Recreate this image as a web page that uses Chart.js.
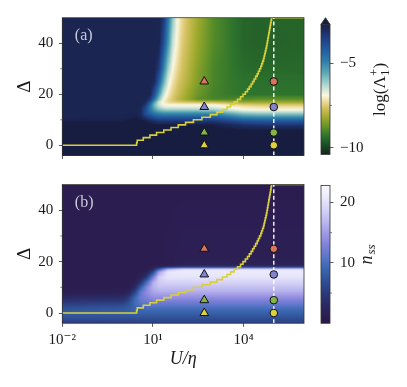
<!DOCTYPE html>
<html>
<head>
<meta charset="utf-8">
<script src="https://cdn.jsdelivr.net/npm/chart.js@4.4.1/dist/chart.umd.min.js"></script>
<style>
  html, body { margin: 0; padding: 0; background: #fff; }
  body { position: relative; width: 407px; height: 387px; overflow: hidden; }
  canvas { position: absolute; }
</style>
</head>
<body>
<canvas id="panelA" width="310" height="170" style="left:0;top:0"></canvas>
<canvas id="cbarA" width="97" height="170" style="left:310px;top:0"></canvas>
<canvas id="panelB" width="310" height="200" style="left:0;top:170px"></canvas>
<canvas id="cbarB" width="97" height="200" style="left:310px;top:170px"></canvas>
<script>
// markers: triangles at U/eta = 500, circles at U/eta = 1e5
const markerDelta = [25, 15, 5, 0];
const markerColors = ['#d9735e', '#8282cf', '#82b44a', '#dfd13e'];
const triangleU = 500;
const circleU = 1e5;

// staircase: log10(U/eta) at which Delta steps up to 1, 2, ..., 50
const stairLogU = [0.46, 0.48, 0.68, 0.90, 1.12, 1.36, 1.60, 1.84, 2.08, 2.34,
  2.62, 2.90, 3.12, 3.30, 3.45, 3.57, 3.69, 3.80, 3.90, 3.98,
  4.06, 4.13, 4.19, 4.25, 4.30, 4.35, 4.40, 4.45, 4.49, 4.53,
  4.57, 4.60, 4.63, 4.66, 4.68, 4.70, 4.72, 4.74, 4.76, 4.775,
  4.79, 4.805, 4.82, 4.835, 4.85, 4.865, 4.88, 4.895, 4.91, 4.925];

// panel (a): log(Lambda_1^+) read at grid nodes
const logUA = [-2, 0, 0.45, 0.6, 0.75, 0.9, 1.05, 1.2, 1.35, 1.5, 1.65, 1.8, 1.95, 2.2, 2.5, 3.0, 3.5, 4.0, 4.5, 5.0, 6.0];
const deltaA = [-4, 0, 6, 8, 9.5, 11, 12.5, 14, 15, 16, 17, 18, 20, 25, 30, 40, 50];
const logLambda = [
  [-2.6, -2.6, -2.6, -2.6, -2.6, -2.6, -2.6, -2.6, -2.6, -2.6, -2.6, -2.6, -2.6, -2.6, -2.6, -2.6, -2.6, -2.6, -2.6, -2.6, -2.6],
  [-2.6, -2.6, -2.6, -2.6, -2.6, -2.6, -2.6, -2.6, -2.6, -2.6, -2.6, -2.6, -2.6, -2.6, -2.6, -2.6, -2.6, -2.6, -2.6, -2.6, -2.6],
  [-2.6, -2.6, -2.6, -2.6, -2.6, -2.6, -2.6, -2.6, -2.6, -2.6, -2.6, -2.6, -2.6, -2.6, -2.6, -2.6, -2.6, -2.65, -2.65, -2.65, -2.65],
  [-2.6, -2.6, -2.6, -2.6, -2.6, -2.6, -2.6, -2.7, -2.7, -2.7, -2.7, -2.7, -2.7, -2.7, -2.7, -2.7, -2.9, -3.2, -3.3, -3.3, -3.3],
  [-2.72, -2.7, -2.65, -2.65, -2.7, -2.9, -3.1, -3.3, -3.3, -3.3, -3.3, -3.3, -3.3, -3.3, -3.3, -3.3, -3.7, -4.0, -4.1, -4.1, -4.1],
  [-2.8, -2.78, -2.7, -2.8, -3.3, -3.7, -4.0, -4.2, -4.2, -4.2, -4.2, -4.2, -4.2, -4.2, -4.2, -4.2, -4.6, -5.0, -5.1, -5.1, -5.1],
  [-2.8, -2.8, -2.78, -3.1, -3.9, -4.4, -4.8, -5.0, -5.1, -5.1, -5.1, -5.1, -5.1, -5.1, -5.1, -5.1, -5.6, -6.0, -6.1, -6.1, -6.1],
  [-2.8, -2.8, -2.8, -3.0, -3.8, -4.7, -5.4, -5.9, -6.1, -6.2, -6.2, -6.2, -6.2, -6.2, -6.2, -6.2, -6.6, -6.9, -6.95, -6.95, -6.95],
  [-2.8, -2.8, -2.8, -2.9, -3.6, -4.7, -5.7, -6.3, -6.6, -6.7, -6.7, -6.7, -6.7, -6.7, -6.7, -6.7, -6.9, -7.1, -7.2, -7.2, -7.2],
  [-2.8, -2.8, -2.8, -2.8, -3.3, -4.5, -5.8, -6.6, -6.9, -6.95, -6.95, -6.95, -6.95, -6.95, -6.95, -6.95, -7.2, -7.5, -7.6, -7.6, -7.6],
  [-2.8, -2.8, -2.8, -2.8, -2.9, -4.0, -5.4, -6.5, -7.0, -7.3, -7.45, -7.55, -7.6, -7.7, -7.8, -7.9, -8.1, -8.3, -8.3, -8.3, -8.3],
  [-2.8, -2.8, -2.8, -2.8, -2.8, -3.3, -4.7, -6.0, -6.85, -7.3, -7.55, -7.85, -8.05, -8.4, -8.8, -9.0, -9.0, -8.9, -8.8, -8.8, -8.8],
  [-2.8, -2.8, -2.8, -2.8, -2.8, -2.8, -4.0, -5.35, -6.5, -7.05, -7.45, -7.7, -7.95, -8.3, -8.7, -9.05, -9.2, -9.3, -9.3, -9.3, -9.3],
  [-2.8, -2.8, -2.8, -2.8, -2.8, -2.8, -2.95, -4.25, -5.6, -6.65, -7.15, -7.5, -7.75, -8.1, -8.5, -9.0, -9.2, -9.3, -9.35, -9.35, -9.35],
  [-2.8, -2.8, -2.8, -2.8, -2.8, -2.8, -2.8, -3.4, -4.9, -6.15, -6.9, -7.3, -7.6, -8.0, -8.45, -9.0, -9.2, -9.4, -9.45, -9.45, -9.45],
  [-2.8, -2.8, -2.8, -2.8, -2.8, -2.8, -2.8, -2.8, -3.9, -5.2, -6.45, -7.0, -7.45, -7.85, -8.3, -8.9, -9.2, -9.5, -9.55, -9.55, -9.5],
  [-2.8, -2.8, -2.8, -2.8, -2.8, -2.8, -2.8, -2.8, -3.3, -4.7, -6.0, -6.85, -7.3, -7.75, -8.2, -8.9, -9.2, -9.5, -9.55, -9.5, -9.5]
];

// panel (b): n_ss read at grid nodes
const logUB = [-2, 0, 0.2, 0.4, 0.6, 0.8, 1.0, 1.2, 1.5, 2.0, 6.0];
const deltaB = [-4, -2, 0, 2, 4, 6, 8, 10, 12, 14, 16, 17, 18, 19, 50];
const nss = [
  [5, 5.2, 5.3, 5.4, 5.5, 5.5, 5.5, 5.5, 5.5, 5.5, 5.5],
  [7, 7, 7, 7, 7, 7, 7, 7, 7, 7, 7],
  [8, 8.2, 8.3, 8.5, 8.5, 8.5, 8.5, 8.5, 8.5, 8.5, 8.5],
  [7, 7.5, 8, 9, 9.5, 10, 10, 10, 10, 10, 10],
  [5, 5.5, 7, 9.5, 11, 11.5, 12, 12, 12, 12, 12],
  [3, 3.5, 5, 9, 12, 13, 14, 14, 14, 14, 14],
  [1.5, 1.8, 2.5, 6, 11.5, 14, 15.5, 16, 16, 16, 16],
  [1, 1, 1.2, 3, 8.5, 13.5, 16.5, 17.5, 17.5, 17.5, 17.5],
  [1, 1, 1, 1.5, 4.5, 10, 16, 18.5, 19, 19, 19],
  [1, 1, 1, 1, 1.8, 5, 12, 18.5, 20.5, 20.5, 20.5],
  [1, 1, 1, 1, 1, 2, 6, 15, 20.5, 21, 21],
  [1, 1, 1, 1, 1, 1.3, 3, 9, 17, 20.5, 20.5],
  [1, 1, 1, 1, 1, 1, 1.2, 2, 4, 5, 5],
  [1, 1, 1, 1, 1, 1, 1, 1, 1.2, 1.5, 1.5],
  [1, 1, 1, 1, 1, 1, 1, 1, 1, 1, 1]
];

const xTicks = [1e-2, 1e1, 1e4];
const yTicks = [0, 10, 20, 30, 40];
const yLabelled = [0, 20, 40];
const cbTicksA = [-10, -7.5, -5];
const cbLabelledA = [-10, -5];
const cbTicksB = [5, 10, 15, 20];
const cbLabelledB = [10, 20];
const rangeA = [-10.4, -2.7];
const rangeB = [0, 22.8];

// colour maps
const stopsA = [
  [-10.4, [22, 36, 24]], [-9.8, [28, 80, 38]], [-9.3, [45, 115, 45]], [-8.8, [95, 145, 40]],
  [-8.2, [160, 170, 45]], [-7.6, [215, 195, 100]], [-7.2, [240, 225, 170]], [-6.9, [250, 248, 225]],
  [-6.3, [178, 216, 208]], [-5.6, [95, 170, 182]], [-4.9, [45, 128, 168]], [-4.2, [35, 90, 160]],
  [-3.5, [32, 62, 130]], [-3.0, [28, 42, 90]], [-2.7, [25, 34, 76]]
];
const overA = [22, 29, 64];
const stopsB = [
  [0, [40, 24, 70]], [1, [44, 29, 80]], [3, [42, 40, 98]], [5, [44, 58, 122]], [7, [48, 80, 150]],
  [9, [58, 102, 175]], [11, [90, 118, 200]], [13, [128, 130, 218]], [15, [160, 155, 230]],
  [17, [190, 186, 240]], [19, [215, 212, 247]], [21, [236, 235, 252]], [22.8, [250, 250, 255]]
];

Chart.defaults.font.family = '"Liberation Serif", "DejaVu Serif", serif';
Chart.defaults.font.size = 14;
Chart.defaults.color = '#1a1a1a';

const SERIF = '"Liberation Serif", "DejaVu Serif", serif';
const SUP = {'-': '\u207b', '0': '\u2070', '1': '\u00b9', '2': '\u00b2', '3': '\u00b3', '4': '\u2074',
  '5': '\u2075', '6': '\u2076', '7': '\u2077', '8': '\u2078', '9': '\u2079'};

function cmap(stops, over) {
  return v => {
    const last = stops[stops.length - 1];
    if (v > last[0]) return over || last[1];
    if (v <= stops[0][0]) return stops[0][1];
    for (let k = 1; k < stops.length; k++) {
      if (v <= stops[k][0]) {
        const [v0, c0] = stops[k - 1], [v1, c1] = stops[k];
        const t = (v - v0) / (v1 - v0);
        return [c0[0] + (c1[0] - c0[0]) * t, c0[1] + (c1[1] - c0[1]) * t, c0[2] + (c1[2] - c0[2]) * t];
      }
    }
    return last[1];
  };
}

function locate(arr, v) {
  const n = arr.length;
  if (v <= arr[0]) return [0, 0];
  if (v >= arr[n - 1]) return [n - 2, 1];
  let k = 0;
  while (v > arr[k + 1]) k++;
  return [k, (v - arr[k]) / (arr[k + 1] - arr[k])];
}

// paints the grid values into the plot area, pixel by pixel via the chart scales
function fieldPlugin(xs, ys, rows, colour) {
  return {
    id: 'field',
    beforeDatasetsDraw(chart) {
      const {ctx, chartArea: a, scales} = chart;
      const W = a.right - a.left, H = a.bottom - a.top;
      const w = Math.round(W), h = Math.round(H);
      const off = document.createElement('canvas');
      off.width = w; off.height = h;
      const octx = off.getContext('2d');
      const img = octx.createImageData(w, h);
      const cols = [];
      for (let i = 0; i < w; i++) {
        cols.push(locate(xs, Math.log10(scales.x.getValueForPixel(a.left + (i + 0.5) * W / w))));
      }
      for (let j = 0; j < h; j++) {
        const [r, s] = locate(ys, scales.y.getValueForPixel(a.top + (j + 0.5) * H / h));
        const r0 = rows[r], r1 = rows[r + 1];
        for (let i = 0; i < w; i++) {
          const [k, t] = cols[i];
          const v0 = r0[k] + (r0[k + 1] - r0[k]) * t;
          const v1 = r1[k] + (r1[k + 1] - r1[k]) * t;
          const c = colour(v0 + (v1 - v0) * s);
          const p = (j * w + i) * 4;
          img.data[p] = c[0]; img.data[p + 1] = c[1]; img.data[p + 2] = c[2]; img.data[p + 3] = 255;
        }
      }
      octx.putImageData(img, 0, 0);
      ctx.drawImage(off, a.left, a.top, W, H);
    }
  };
}

const frame = {
  id: 'frame',
  afterDraw(chart) {
    const {ctx, chartArea: a} = chart;
    ctx.save();
    ctx.strokeStyle = '#333';
    ctx.lineWidth = 0.8;
    ctx.strokeRect(a.left, a.top, a.right - a.left, a.bottom - a.top);
    ctx.restore();
  }
};

// short ticks for the unlabelled (minor) values of the y scale
function minorTicks(values, side) {
  return {
    id: 'minorTicks',
    afterDraw(chart) {
      const {ctx, chartArea: a, scales: {y}} = chart;
      const x0 = side === 'left' ? a.left : a.right;
      const x1 = side === 'left' ? a.left - 2 : a.right + 2;
      ctx.save();
      ctx.strokeStyle = '#333';
      ctx.lineWidth = 0.6;
      values.forEach(v => {
        const py = y.getPixelForValue(v);
        ctx.beginPath(); ctx.moveTo(x0, py); ctx.lineTo(x1, py); ctx.stroke();
      });
      ctx.restore();
    }
  };
}

function tag(text) {
  return {
    id: 'tag',
    afterDatasetsDraw(chart) {
      const {ctx, chartArea: a} = chart;
      ctx.save();
      ctx.font = '16px ' + SERIF;
      ctx.fillStyle = '#c9cdd9';
      ctx.textBaseline = 'alphabetic';
      ctx.fillText(text, a.left + 12.5, a.top + 22.5);
      ctx.restore();
    }
  };
}

const stairPoints = [{x: 1e-2, y: 0}]
  .concat(stairLogU.map((t, k) => ({x: Math.pow(10, t), y: k + 1})))
  .concat([{x: 1e6, y: 50}]);

function supLabel(v) {
  const e = String(Math.round(Math.log10(v)));
  return '10' + e.split('').map(ch => SUP[ch]).join('');
}

function majorColour(labelled) {
  return c => (c.tick && labelled.includes(c.tick.value) ? '#333' : 'rgba(0,0,0,0)');
}

function panel(id, field, label, showX, padTop, xHeight) {
  return new Chart(document.getElementById(id), {
    type: 'scatter',
    data: {
      datasets: [
        {type: 'line', data: stairPoints, stepped: true, borderColor: '#d8cf3f', borderWidth: 1.6,
          pointRadius: 0, fill: false, order: 4},
        {type: 'line', data: [{x: circleU, y: -4}, {x: circleU, y: 50}], borderColor: '#ffffff',
          borderWidth: 1.4, borderDash: [4, 2.5], pointRadius: 0, fill: false, order: 3},
        {data: markerDelta.map(d => ({x: triangleU, y: d})), pointStyle: 'triangle', pointRadius: 5,
          pointHoverRadius: 5, backgroundColor: markerColors, borderColor: '#111', borderWidth: 1, order: 2},
        {data: markerDelta.map(d => ({x: circleU, y: d})), pointStyle: 'circle', pointRadius: 3.8,
          pointHoverRadius: 3.8, backgroundColor: markerColors, borderColor: '#111', borderWidth: 1, order: 1}
      ]
    },
    options: {
      responsive: false,
      animation: false,
      events: [],
      layout: {padding: {top: padTop, right: 4, left: 0, bottom: 0}},
      plugins: {legend: {display: false}, tooltip: {enabled: false}},
      scales: {
        x: {
          type: 'logarithmic', min: 1e-2, max: 1e6,
          afterFit: s => { s.height = xHeight; },
          afterBuildTicks: s => { s.ticks = xTicks.map(v => ({value: v})); },
          ticks: {display: showX, callback: v => supLabel(v), maxRotation: 0, autoSkip: false, padding: 4.5,
            font: {size: 15}},
          grid: {drawOnChartArea: false, tickLength: 3.5, tickColor: '#333', tickWidth: 0.8},
          border: {display: false},
          title: {display: showX, text: 'U/\u03b7', font: {size: 18, style: 'italic'}, padding: {top: 0, bottom: 0}}
        },
        y: {
          type: 'linear', min: -4, max: 50,
          afterFit: s => { s.width = 62.3; },
          afterBuildTicks: s => { s.ticks = yTicks.map(v => ({value: v})); },
          ticks: {callback: v => (yLabelled.includes(v) ? String(v) : ''), padding: 5.5, font: {size: 15}},
          grid: {drawOnChartArea: false, tickLength: 3.5, tickColor: majorColour(yLabelled), tickWidth: 0.8},
          border: {display: false},
          title: {display: true, text: '\u0394', font: {size: 19}, padding: {top: 14, bottom: 0}}
        }
      }
    },
    plugins: [field, frame, tag(label), minorTicks(yTicks.filter(v => !yLabelled.includes(v)), 'left')]
  });
}

function gradientFill(range, stops) {
  return c => {
    const chart = c.chart;
    if (!chart.chartArea) return null;
    const y = chart.scales.y;
    const g = chart.ctx.createLinearGradient(0, y.getPixelForValue(range[0]), 0, y.getPixelForValue(range[1]));
    stops.forEach(([v, col]) => g.addColorStop((v - range[0]) / (range[1] - range[0]), 'rgb(' + col.join(',') + ')'));
    return g;
  };
}

function fmtMinus(v) { return String(v).replace('-', '\u2212'); }

function colorbar(id, range, stops, ticks, labelled, padding, extras) {
  return new Chart(document.getElementById(id), {
    type: 'bar',
    data: {
      labels: [''],
      datasets: [{data: [range], backgroundColor: gradientFill(range, stops), borderWidth: 0,
        barPercentage: 1, categoryPercentage: 1}]
    },
    options: {
      responsive: false,
      animation: false,
      events: [],
      layout: {padding: padding},
      plugins: {legend: {display: false}, tooltip: {enabled: false}},
      scales: {
        x: {display: false},
        y: {
          position: 'right', min: range[0], max: range[1],
          afterFit: s => { s.width = 77; },
          afterBuildTicks: s => { s.ticks = ticks.map(v => ({value: v})); },
          ticks: {callback: v => (labelled.includes(v) ? fmtMinus(v) : ''), padding: 6.5, font: {size: 15}},
          grid: {drawOnChartArea: false, tickLength: 3.5, tickColor: majorColour(labelled), tickWidth: 0.8},
          border: {display: false}
        }
      }
    },
    plugins: [frame, minorTicks(ticks.filter(v => !labelled.includes(v)), 'right')].concat(extras)
  });
}

const extendArrow = {
  id: 'extendArrow',
  afterDraw(chart) {
    const {ctx, chartArea: a} = chart;
    const mid = (a.left + a.right) / 2;
    ctx.save();
    ctx.beginPath();
    ctx.moveTo(a.left, a.top);
    ctx.lineTo(mid, a.top - 6.6);
    ctx.lineTo(a.right, a.top);
    ctx.closePath();
    ctx.fillStyle = 'rgb(' + overA.join(',') + ')';
    ctx.fill();
    ctx.strokeStyle = '#333';
    ctx.lineWidth = 0.8;
    ctx.stroke();
    ctx.restore();
  }
};

const lambdaLabel = {
  id: 'lambdaLabel',
  afterDraw(chart) {
    const {ctx, chartArea: a} = chart;
    const big = '17px ' + SERIF, small = '12px ' + SERIF;
    ctx.save();
    ctx.translate(a.right + 51, (a.top + a.bottom) / 2);
    ctx.rotate(-Math.PI / 2);
    ctx.fillStyle = '#1a1a1a';
    ctx.textBaseline = 'middle';
    ctx.textAlign = 'left';
    ctx.font = big;
    const w1 = ctx.measureText('log(\u039b').width, w3 = ctx.measureText(')').width;
    ctx.font = small;
    const w2 = Math.max(ctx.measureText('+').width, ctx.measureText('1').width);
    let x = -(w1 + w2 + w3 + 1) / 2;
    ctx.font = big; ctx.fillText('log(\u039b', x, 0); x += w1 + 0.5;
    ctx.font = small; ctx.fillText('+', x, -6); ctx.fillText('1', x, 5); x += w2 + 0.5;
    ctx.font = big; ctx.fillText(')', x, 0);
    ctx.restore();
  }
};

const nssLabel = {
  id: 'nssLabel',
  afterDraw(chart) {
    const {ctx, chartArea: a} = chart;
    const big = 'italic 18px ' + SERIF, small = 'italic 13px ' + SERIF;
    ctx.save();
    ctx.translate(a.right + 37, (a.top + a.bottom) / 2);
    ctx.rotate(-Math.PI / 2);
    ctx.fillStyle = '#1a1a1a';
    ctx.textBaseline = 'middle';
    ctx.textAlign = 'left';
    ctx.font = big;
    const w1 = ctx.measureText('n').width;
    ctx.font = small;
    const w2 = ctx.measureText('ss').width;
    let x = -(w1 + w2 + 1) / 2;
    ctx.font = big; ctx.fillText('n', x, 0); x += w1 + 1;
    ctx.font = small; ctx.fillText('ss', x, 5);
    ctx.restore();
  }
};

var field = fieldPlugin(logUA, deltaA, logLambda, cmap(stopsA, overA));
panel('panelA', field, '(a)', false, 17.7, 11.7);
field = fieldPlugin(logUB, deltaB, nss, cmap(stopsB, null));
panel('panelB', field, '(b)', true, 12.3, 46.7);

colorbar('cbarA', rangeA, stopsA, cbTicksA, cbLabelledA, {top: 24.3, bottom: 11.7, left: 11, right: 0},
  [extendArrow, lambdaLabel]);
colorbar('cbarB', rangeB, stopsB, cbTicksB, cbLabelledB, {top: 12.3, bottom: 46.7, left: 11, right: 0},
  [nssLabel]);
</script>
</body>
</html>
